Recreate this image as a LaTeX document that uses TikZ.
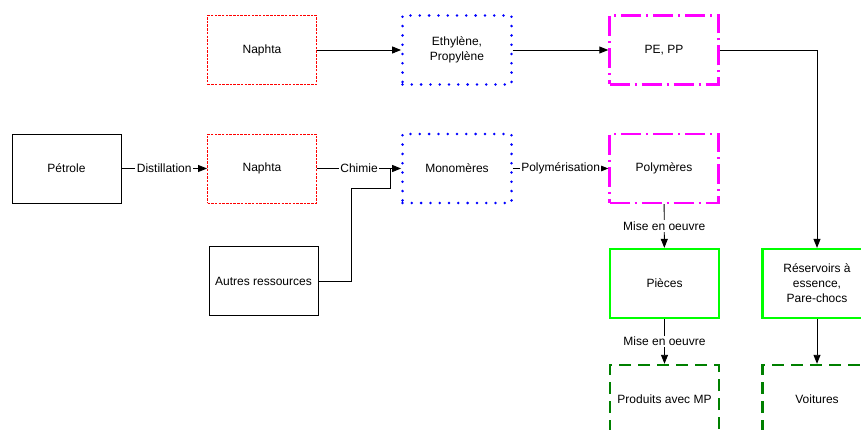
\documentclass[tikz,border=0pt]{standalone}
\usepackage{fontspec}
\setmainfont{Liberation Sans}
\usetikzlibrary{arrows.meta}
\definecolor{mgreen}{RGB}{0,255,0}
\definecolor{dgreen}{RGB}{0,128,0}
\definecolor{mmag}{RGB}{255,0,255}
\begin{document}
\begin{tikzpicture}[x=1pt,y=-1pt,
  font=\fontsize{12}{15}\selectfont,
  box/.style={minimum width=109pt,minimum height=69pt,inner sep=0pt,align=center},
  plain/.style={box,draw=black,line width=0.9pt},
  redbox/.style={box,draw=red,line width=0.9pt,dash pattern=on 2.5pt off 1.2pt},
  bluebox/.style={box,draw=blue,line width=2.8pt,line cap=round,dash pattern=on 0pt off 9.3pt},
  magbox/.style={box,draw=mmag,line width=2.4pt,dash pattern=on 20pt off 5pt on 2pt off 5pt},
  greenbox/.style={box,draw=mgreen,line width=2.2pt},
  dgbox/.style={box,draw=dgreen,line width=2.4pt,dash pattern=on 12pt off 7pt},
  arr/.style={draw=black,line width=0.9pt,-{Triangle[length=9pt,width=7pt]}},
  conn/.style={draw=black,line width=0.9pt},
  lbl/.style={fill=white,inner sep=1.5pt}]
\useasboundingbox (0,0) rectangle (861,430);
\clip (0,0) rectangle (861,430);

\node[plain] (pet) at (66.5,168.5) {Pétrole};
\node[redbox] (nap) at (262,168.5) {Naphta};
\node[redbox] (napt) at (262,50) {Naphta};
\node[plain] (aut) at (263.5,281) {Autres ressources};
\node[bluebox] (eth) at (457,50) {Ethylène,\\Propylène};
\node[bluebox] (mon) at (457,168.5) {Monomères};
\node[magbox] (pepp) at (664,50) {PE, PP};
\node[magbox] (pol) at (664,168.5) {Polymères};
\node[greenbox] (pie) at (664.5,283.5) {Pièces};
\node[greenbox] (res) at (817,283.5) {Réservoirs à\\essence,\\Pare-chocs};
\node[dgbox] (prod) at (664.5,399.5) {Produits avec MP};
\node[dgbox] (voit) at (817,399.5) {Voitures};

\draw[arr] (pet) -- node[lbl] {Distillation} (nap);
\draw[arr] (nap) -- node[lbl] {Chimie} (mon);
\draw[arr] (napt) -- (eth);
\draw[arr] (eth) -- (pepp);
\draw[arr] (mon) -- node[lbl] {Polymérisation} (pol);
\draw[arr] (pol) -- node[lbl] {Mise en oeuvre} (pie);
\draw[arr] (pie) -- node[lbl] {Mise en oeuvre} (prod);
\draw[arr] (pepp.east) -| (res.north);
\draw[arr] (res) -- (voit);

\coordinate (j1) at (351,188);
\coordinate (j2) at (390,168.5);
\draw[conn] (aut.east) -| (j1) -| (j2);
\end{tikzpicture}
\end{document}
